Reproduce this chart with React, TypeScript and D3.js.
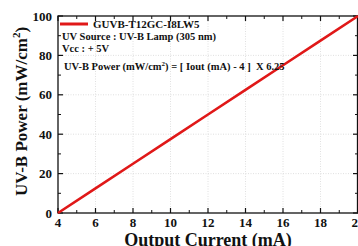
import React from "react";
import * as d3 from "d3";

const currents = [4, 6, 8, 10, 12, 14, 16, 18, 20];
const powers = [0, 12.5, 25, 37.5, 50, 62.5, 75, 87.5, 100];
const xTicks = [4, 6, 8, 10, 12, 14, 16, 18, 20];
const xMinor = [5, 7, 9, 11, 13, 15, 17, 19];
const yTicks = [0, 20, 40, 60, 80, 100];
const yMinor = [10, 30, 50, 70, 90];
const legendLabel = "GUVB-T12GC-I8LW5";
const note1 = "UV Source : UV-B Lamp (305 nm)";
const note2 = "Vcc : + 5V";

const W = 358, H = 246;
const M = { left: 58, right: 358, top: 16, bottom: 213 };
const FONT = "'Liberation Serif', 'Times New Roman', serif";

export default function App() {
  const x = d3.scaleLinear().domain([4, 20]).range([M.left, M.right]);
  const y = d3.scaleLinear().domain([0, 100]).range([M.bottom, M.top]);
  const line = d3.line<number>().x((d, i) => x(currents[i])).y((d) => y(d));
  const path = line(powers) || "";
  return (
    <svg width={W} height={H} style={{ position: "absolute", left: 0, top: 0, background: "#fff" }} fontFamily={FONT}>
      <rect width={W} height={H} fill="#fff" />
      {/* grid */}
      {xTicks.slice(1, -1).map((t) => (
        <line key={"gx" + t} x1={x(t)} x2={x(t)} y1={M.top} y2={M.bottom} stroke="#d8d8d8" strokeWidth={0.8} strokeDasharray="1,1.5" />
      ))}
      {yTicks.slice(1, -1).map((t) => (
        <line key={"gy" + t} x1={M.left} x2={M.right} y1={y(t)} y2={y(t)} stroke="#d8d8d8" strokeWidth={0.8} strokeDasharray="1,1.5" />
      ))}
      {/* frame */}
      <rect x={M.left} y={M.top} width={M.right - M.left - 0.5} height={M.bottom - M.top} fill="none" stroke="#111" strokeWidth={1.3} />
      {/* ticks */}
      {xTicks.map((t) => (
        <g key={"xt" + t}>
          <line x1={x(t)} x2={x(t)} y1={M.bottom} y2={M.bottom - 5} stroke="#111" strokeWidth={1.2} />
          <line x1={x(t)} x2={x(t)} y1={M.top} y2={M.top + 5} stroke="#111" strokeWidth={1.2} />
          <text x={x(t)} y={226.5} textAnchor="middle" fontSize={13} fontWeight="bold" fill="#111">{t}</text>
        </g>
      ))}
      {xMinor.map((t) => (
        <g key={"xm" + t}>
          <line x1={x(t)} x2={x(t)} y1={M.bottom} y2={M.bottom - 3} stroke="#111" strokeWidth={1} />
          <line x1={x(t)} x2={x(t)} y1={M.top} y2={M.top + 3} stroke="#111" strokeWidth={1} />
        </g>
      ))}
      {yTicks.map((t) => (
        <g key={"yt" + t}>
          <line x1={M.left} x2={M.left + 5} y1={y(t)} y2={y(t)} stroke="#111" strokeWidth={1.2} />
          <line x1={M.right} x2={M.right - 5} y1={y(t)} y2={y(t)} stroke="#111" strokeWidth={1.2} />
          <text x={M.left - 6} y={y(t) + 4.5} textAnchor="end" fontSize={13} fontWeight="bold" fill="#111">{t}</text>
        </g>
      ))}
      {yMinor.map((t) => (
        <g key={"ym" + t}>
          <line x1={M.left} x2={M.left + 3} y1={y(t)} y2={y(t)} stroke="#111" strokeWidth={1} />
          <line x1={M.right} x2={M.right - 3} y1={y(t)} y2={y(t)} stroke="#111" strokeWidth={1} />
        </g>
      ))}
      {/* data line */}
      <path d={path} fill="none" stroke="#e01818" strokeWidth={2.6} />
      {/* legend & notes */}
      <line x1={60} x2={88} y1={24} y2={24} stroke="#e01818" strokeWidth={3} />
      <text x={93} y={28} fontSize={11} fontWeight="bold" fill="#111">{legendLabel}</text>
      <text x={62} y={39.5} fontSize={10.5} fontWeight="bold" fill="#111">{note1}</text>
      <text x={62} y={51.5} fontSize={10.5} fontWeight="bold" fill="#111">{note2}</text>
      <text x={64} y={70} fontSize={10.5} fontWeight="bold" fill="#111">
        UV-B Power (mW/cm<tspan dy={-4} fontSize={7}>2</tspan><tspan dy={4}>{") = [ Iout (mA) - 4 ]\u00a0\u00a0X 6.25"}</tspan>
      </text>
      {/* axis titles */}
      <text x={(M.left + M.right) / 2} y={246} textAnchor="middle" fontSize={18} fontWeight="bold" fill="#111">Output Current (mA)</text>
      <text transform={`translate(27, ${(M.top + M.bottom) / 2 - 3}) rotate(-90)`} textAnchor="middle" fontSize={17} fontWeight="bold" fill="#111">
        UV-B Power (mW/cm<tspan dy={-7} fontSize={11}>2</tspan><tspan dy={7}>)</tspan>
      </text>
    </svg>
  );
}
